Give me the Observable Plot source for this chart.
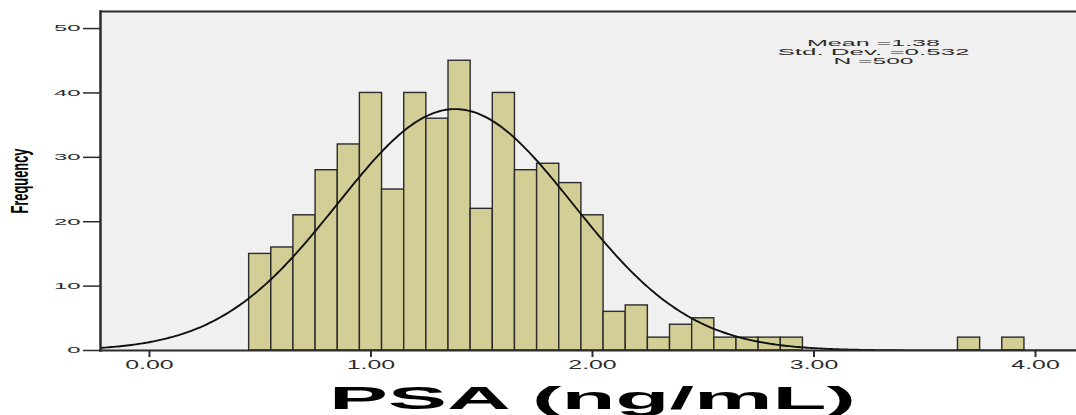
<!DOCTYPE html>
<html>
<head>
<meta charset="utf-8">
<script src="https://cdn.jsdelivr.net/npm/d3@7"></script>
<script src="https://cdn.jsdelivr.net/npm/@observablehq/plot@0.6"></script>
<style>
  body { margin: 0; background: #ffffff; }
  #chart svg { display: block; }
</style>
</head>
<body>
<div id="chart"></div>
<script>
// PSA histogram: lower edge of each 0.1 ng/mL bin and its count
const binStarts = [0.45, 0.55, 0.65, 0.75, 0.85, 0.95, 1.05, 1.15, 1.25, 1.35,
                   1.45, 1.55, 1.65, 1.75, 1.85, 1.95, 2.05, 2.15, 2.25, 2.35,
                   2.45, 2.55, 2.65, 2.75, 2.85, 3.65, 3.85];
const counts    = [15, 16, 21, 28, 32, 40, 25, 40, 36, 45,
                   22, 40, 28, 29, 26, 21, 6, 7, 2, 4,
                   5, 2, 2, 2, 2, 2, 2];
const binWidth = 0.1;

// Summary statistics shown in the corner and used for the normal curve
const meanPSA = 1.38;
const sdPSA = 0.532;
const nPSA = 500;

const xTicks = [0, 1, 2, 3, 4];
const yTicks = [0, 10, 20, 30, 40, 50];
const xDomain = [-0.221, 4.185];
const yDomain = [0, 52.65];

const xTitle = "PSA (ng/mL)";
const yTitle = "Frequency";

const bins = binStarts.map((x0, i) => ({x1: x0, x2: x0 + binWidth, count: counts[i]}));

// Fitted normal curve, scaled to counts per bin
const curve = d3.range(xDomain[0], xDomain[1] + 0.005, 0.01).map(x => ({
  x,
  y: nPSA * binWidth * Math.exp(-0.5 * ((x - meanPSA) / sdPSA) ** 2) / (sdPSA * Math.sqrt(2 * Math.PI))
}));

const statLines = [`Mean =${meanPSA}`, `Std. Dev. =${sdPSA}`, `N =${nPSA}`];
const statWidths = [133, 192, 80];
const statOffsets = [34.4, 43.6, 52.6];

const ink = "#2b2b2b";

const plot = Plot.plot({
  width: 1076,
  height: 415,
  marginLeft: 100,
  marginRight: 0,
  marginTop: 11,
  marginBottom: 65,
  style: {fontFamily: "'Liberation Sans', Arial, sans-serif", background: "#ffffff", color: ink},
  x: {domain: xDomain, ticks: xTicks, tickFormat: d3.format(".2f"), label: null},
  y: {domain: yDomain, ticks: yTicks, label: null},
  marks: [
    Plot.frame({fill: "#f0f0f0", stroke: null}),
    Plot.rect(bins, {x1: "x1", x2: "x2", y1: 0, y2: "count", fill: "#d3ce96", stroke: ink, strokeWidth: 1.4}),
    Plot.line(curve, {x: "x", y: "y", stroke: "#111111", strokeWidth: 1.9, clip: true}),
    Plot.frame({anchor: "left", stroke: ink, strokeWidth: 2.5}),
    Plot.frame({anchor: "top", stroke: ink, strokeWidth: 2}),
    Plot.frame({anchor: "bottom", stroke: ink, strokeWidth: 2}),
    Plot.axisY({ticks: yTicks, tickSize: 17, tickPadding: 3, fontSize: 9, stroke: ink, strokeWidth: 1.5, label: null}),
    Plot.axisX({ticks: xTicks, tickFormat: d3.format(".2f"), tickSize: 7, tickPadding: 2, fontSize: 13, stroke: ink, strokeWidth: 2, label: null}),
    ...statLines.map((line, i) => Plot.text([line], {
      frameAnchor: "top-right", textAnchor: "middle", lineAnchor: "bottom",
      dx: -203, dy: statOffsets[i], fontSize: 9.5, fill: ink
    })),
    Plot.text([yTitle], {
      frameAnchor: "left", rotate: -90, textAnchor: "start", dx: -80.5, dy: 32.5,
      fontSize: 24, fontWeight: "bold", fill: "#000"
    }),
    Plot.text([xTitle], {
      frameAnchor: "bottom", lineAnchor: "bottom", dx: 4, dy: 58, fontSize: 32, fontWeight: "bold", fill: "#000"
    })
  ]
});

document.getElementById("chart").append(plot);

// Wide, stretched lettering of the original output: set text lengths explicitly
const svg = d3.select(plot);
function fit(el, length) {
  el.setAttribute("textLength", length);
  el.setAttribute("lengthAdjust", "spacingAndGlyphs");
}
svg.selectAll('g[aria-label="y-axis tick label"] text').each(function () { fit(this, this.textContent.length * 13.3); });
svg.selectAll('g[aria-label="x-axis tick label"] text').each(function () { fit(this, this.textContent.length * 12.1); });
svg.selectAll("text").each(function () {
  const t = this.textContent;
  const i = statLines.indexOf(t);
  if (i >= 0) fit(this, statWidths[i]);
  else if (t === yTitle) fit(this, 65);
  else if (t === xTitle) fit(this, 527);
});
</script>
</body>
</html>
